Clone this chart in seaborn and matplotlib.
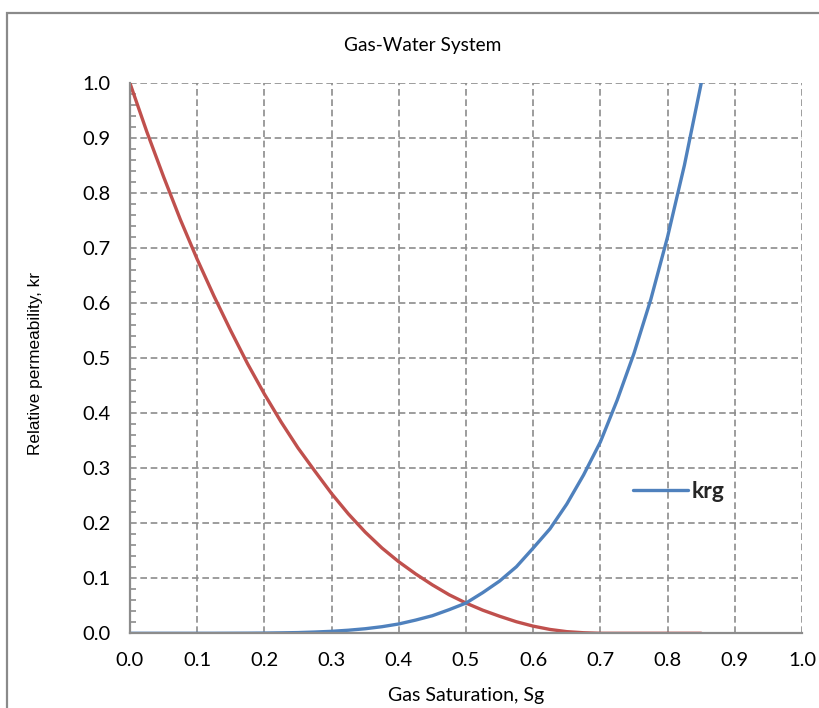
import numpy as np
import pandas as pd
import matplotlib
matplotlib.use("Agg")
import matplotlib.pyplot as plt
from matplotlib.patches import Rectangle
from matplotlib.ticker import MultipleLocator, FormatStrFormatter
import seaborn as sns

# Gas saturation values
sg = [0.000, 0.025, 0.050, 0.075, 0.100, 0.125, 0.150, 0.175, 0.200, 0.225,
      0.250, 0.275, 0.300, 0.325, 0.350, 0.375, 0.400, 0.425, 0.450, 0.475,
      0.500, 0.525, 0.550, 0.575, 0.600, 0.625, 0.650, 0.675, 0.700, 0.725,
      0.750, 0.775, 0.800, 0.825, 0.850]

# Water relative permeability
krw = [1.000, 0.912, 0.830, 0.752, 0.680, 0.613, 0.550, 0.490, 0.435, 0.384,
       0.337, 0.295, 0.254, 0.217, 0.184, 0.155, 0.130, 0.108, 0.088, 0.070,
       0.055, 0.042, 0.031, 0.021, 0.013, 0.007, 0.003, 0.001, 0.000, 0.000,
       0.000, 0.000, 0.000, 0.000, 0.000]

# Gas relative permeability
krg = [0.000, 0.000, 0.000, 0.000, 0.000, 0.000, 0.0001, 0.0002, 0.0004, 0.0008,
       0.0013, 0.0023, 0.0036, 0.0056, 0.0083, 0.012, 0.017, 0.024, 0.032, 0.043,
       0.055, 0.074, 0.095, 0.121, 0.155, 0.190, 0.235, 0.288, 0.348, 0.424,
       0.509, 0.607, 0.721, 0.851, 1.000]

x_ticks = [0.0, 0.1, 0.2, 0.3, 0.4, 0.5, 0.6, 0.7, 0.8, 0.9, 1.0]
y_ticks = [0.0, 0.1, 0.2, 0.3, 0.4, 0.5, 0.6, 0.7, 0.8, 0.9, 1.0]

title = "Gas-Water System"
x_label = "Gas Saturation, Sg"
y_label = "Relative permeability, kr"

df = pd.DataFrame({"Sg": sg, "krw": krw, "krg": krg})

sns.set_theme(style="white")
plt.rcParams["font.family"] = ["Lato", "DejaVu Sans"]

RED = "#C0504D"
BLUE = "#4F81BD"
GRID = "#8C8C8C"

fig = plt.figure(figsize=(8.2, 7.08), dpi=100)
ax = fig.add_axes([130 / 820, 1 - 633.3 / 708, 672 / 820, 550 / 708])

sns.lineplot(data=df, x="Sg", y="krw", ax=ax, color=RED, linewidth=2.4,
             label="_krw", sort=False)
sns.lineplot(data=df, x="Sg", y="krg", ax=ax, color=BLUE, linewidth=2.4,
             label="krg", sort=False)

ax.set_xlim(0, 1.0)
ax.set_ylim(0, 1.0)
ax.set_xticks(x_ticks)
ax.set_yticks(y_ticks)
ax.xaxis.set_major_formatter(FormatStrFormatter("%.1f"))
ax.yaxis.set_major_formatter(FormatStrFormatter("%.1f"))
ax.yaxis.set_minor_locator(MultipleLocator(0.02))

ax.grid(True, which="major", color=GRID, linestyle=(0, (4, 2.2)), linewidth=1.2)
ax.set_axisbelow(True)

for side in ("top", "right"):
    ax.spines[side].set_visible(False)
for side in ("left", "bottom"):
    ax.spines[side].set_color(GRID)
    ax.spines[side].set_linewidth(1.6)

ax.tick_params(axis="x", which="major", direction="out", length=4.3, width=1.4,
               color=GRID, labelsize=14.5, pad=9, labelcolor="black")
ax.tick_params(axis="y", which="major", direction="in", length=0, width=1.2,
               color=GRID, labelsize=14.5, pad=14, labelcolor="black")
ax.tick_params(axis="y", which="minor", direction="in", length=4, width=1.2,
               color=GRID, left=True)

ax.set_xlabel(x_label, fontsize=14, color="black", va="center")
ax.xaxis.set_label_coords(0.5, (633.3 - 695) / 550)
ax.set_ylabel(y_label, fontsize=12.4, color="black", va="center",
              family=["Liberation Sans", "DejaVu Sans"])
ax.yaxis.set_label_coords((36 - 130) / 672, 0.49)

fig.text(423 / 820, 1 - 45 / 708, title, ha="center", va="center",
         fontsize=13.7, color="black")

leg = ax.legend(loc="center left", bbox_to_anchor=(0.7485, 0.257), frameon=False,
                handlelength=2.4, handletextpad=0.18, borderaxespad=0,
                borderpad=0, prop={"weight": "bold", "size": 16.5})

# Chart area border
fig.patches.append(Rectangle((7 / 820, -0.2), 2.0, 1.2 - 13 / 708,
                             transform=fig.transFigure, fill=False,
                             edgecolor="#8A8A8A", linewidth=1.6))

fig.savefig("out.png", dpi=100)
